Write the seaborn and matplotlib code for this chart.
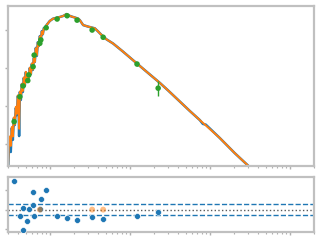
import numpy as np
import pandas as pd
import matplotlib
matplotlib.use("Agg")
import matplotlib.pyplot as plt
import seaborn as sns

# ---- data ----
wave_spec = [0.301, 0.307, 0.316, 0.325, 0.335, 0.345, 0.355, 0.365, 0.376, 0.387,
             0.398, 0.406, 0.413, 0.422, 0.434, 0.447, 0.460, 0.473, 0.487, 0.501,
             0.516, 0.531, 0.546, 0.562, 0.579, 0.596, 0.613, 0.631, 0.649, 0.668,
             0.688, 0.708, 0.729, 0.750, 0.772, 0.794, 0.818, 0.841, 0.866, 0.910,
             1.00, 1.10, 1.27, 1.47, 1.62, 1.69, 1.87, 2.05, 2.26, 2.37,
             2.61, 3.01, 3.65, 4.02, 4.43, 5.11, 6.18, 8.24, 12.1, 17.8,
             23.7, 30.1, 56.2, 75.0, 81.8, 89.1, 133.0, 205.0, 335.0]
flux_obs = [-3.68, -3.16, -2.89, -3.21, -2.58, -2.89, -2.32, -2.50, -2.05, -2.24,
            -1.74, -1.84, -2.79, -1.63, -1.84, -1.42, -1.63, -1.26, -1.47, -1.11,
            -1.32, -1.16, -1.26, -1.00, -1.16, -0.89, -1.05, -0.74, -0.84, -0.47,
            -0.68, -0.32, -0.42, -0.16, -0.26, -0.03, -0.11, 0.05, 0.03, 0.13,
            0.24, 0.30, 0.33, 0.37, 0.42, 0.39, 0.355, 0.33, 0.30, 0.26,
            0.13, 0.09, 0.045, -0.04, -0.13, -0.245, -0.355, -0.57, -0.87, -1.17,
            -1.39, -1.59, -2.13, -2.37, -2.47, -2.49, -2.84, -3.24, -3.66]
flux_model = [-3.60, -3.05, -2.80, -3.05, -2.55, -2.80, -2.30, -2.48, -2.02, -2.20,
              -1.72, -1.88, -2.60, -1.62, -1.80, -1.42, -1.60, -1.25, -1.45, -1.10,
              -1.30, -1.15, -1.25, -0.99, -1.15, -0.88, -1.04, -0.73, -0.84, -0.48,
              -0.66, -0.33, -0.42, -0.17, -0.26, -0.04, -0.11, 0.04, 0.03, 0.13,
              0.24, 0.30, 0.33, 0.37, 0.42, 0.39, 0.355, 0.33, 0.30, 0.26,
              0.13, 0.09, 0.045, -0.04, -0.13, -0.245, -0.355, -0.57, -0.87, -1.17,
              -1.39, -1.59, -2.13, -2.37, -2.44, -2.51, -2.84, -3.24, -3.66]

wave_phot = [0.358, 0.422, 0.464, 0.53, 0.546, 0.618, 0.637, 0.750, 0.772,
             0.90, 1.234, 1.645, 2.19, 3.38, 4.64, 12.3, 22.6]
flux_phot = [-2.41, -1.755, -1.47, -1.33, -1.18, -0.965, -0.66, -0.35, -0.26,
             0.06, 0.29, 0.376, 0.26, 0.0, -0.19, -0.895, -1.53]
err_phot = [0.03, 0.03, 0.03, 0.03, 0.03, 0.03, 0.03, 0.03, 0.03,
            0.03, 0.02, 0.02, 0.02, 0.02, 0.03, 0.05, 0.20]

wave_res = [0.358, 0.422, 0.464, 0.464, 0.52, 0.546, 0.618, 0.618, 0.637, 0.750,
            0.772, 0.891, 1.234, 1.645, 2.19, 3.38, 4.64, 12.3, 22.6]
res_val = [1.46, -0.33, 0.06, -1.05, -0.59, 0.03, 0.88, 0.23, -0.33, 0.03,
           0.52, 1.0, -0.33, -0.44, -0.54, -0.38, -0.49, -0.33, -0.14]
wave_res2 = [0.750, 3.38, 4.64]
res_val2 = [0.0, 0.0, 0.0]
band = 0.28

# ---- plot ----
sns.set_theme(style="white")
fig = plt.figure(figsize=(3.2, 2.4), dpi=100)
ax = fig.add_axes([0.025, 0.308, 0.956, 0.669])
axr = fig.add_axes([0.025, 0.033, 0.956, 0.2295])

spec = pd.DataFrame({"wave": wave_spec, "obs": flux_obs, "model": flux_model})
phot = pd.DataFrame({"wave": wave_phot, "flux": flux_phot, "err": err_phot})
res = pd.DataFrame({"wave": wave_res, "res": res_val})
res2 = pd.DataFrame({"wave": wave_res2, "res": res_val2})

sns.lineplot(data=spec, x="wave", y="obs", ax=ax, color="tab:blue", lw=1.8,
             estimator=None, sort=False)
sns.lineplot(data=spec, x="wave", y="model", ax=ax, color="tab:orange", lw=1.4,
             estimator=None, sort=False)
ax.errorbar(phot["wave"], phot["flux"], yerr=phot["err"], fmt="none",
            ecolor="tab:green", elinewidth=1, zorder=3)
sns.scatterplot(data=phot, x="wave", y="flux", ax=ax, color="tab:green",
                s=16, edgecolor="none", zorder=4)

ax.set_xscale("log")
ax.set_xlim(0.3, 2000)
ax.set_ylim(-3.58, 0.645)
ax.set_yticks([0, -1, -2, -3])

axr.axhline(band, color="tab:blue", ls="--", lw=1)
axr.axhline(-band, color="tab:blue", ls="--", lw=1)
axr.axhline(0, color="0.35", ls=":", lw=1)
sns.scatterplot(data=res, x="wave", y="res", ax=axr, color="tab:blue",
                s=18, edgecolor="white", linewidth=0.4, zorder=4)
sns.scatterplot(data=res2, x="wave", y="res", ax=axr, color="tab:orange",
                s=18, alpha=0.5, edgecolor="none", zorder=5)
axr.set_xscale("log")
axr.set_xlim(0.3, 2000)
axr.set_ylim(-1.15, 1.67)
axr.set_yticks([1, 0, -1])

for a in (ax, axr):
    a.set_xlabel("")
    a.set_ylabel("")
    for s in a.spines.values():
        s.set_color("#c0c0c0")
        s.set_linewidth(1.6)
    a.tick_params(which="both", bottom=True, left=True, labelbottom=False,
                  labelleft=False, color="#b0b0b0")
    a.tick_params(which="major", length=2.5, width=1)
    a.tick_params(which="minor", length=1.5, width=0.8)
    if a.get_legend() is not None:
        a.get_legend().remove()

fig.savefig("out.png", dpi=100)
